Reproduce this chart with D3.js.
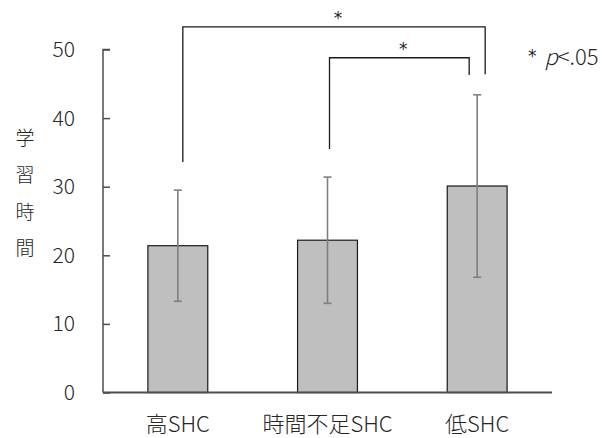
<!DOCTYPE html>
<meta charset="utf-8">
<script src="https://d3js.org/d3.v7.min.js"></script>
<style>
  body { margin: 0; background: #fff; }
  text { font-family: "Noto Sans CJK JP", "Noto Sans", sans-serif; fill: #262626; font-weight: 300; }
  .star { font-family: "DejaVu Sans", sans-serif; font-weight: normal; }
</style>
<div id="chart"></div>
<script>

// data
var categories = ["高SHC", "時間不足SHC", "低SHC"];
var means = [21.4, 22.2, 30.1];
var sds = [8.1, 9.2, 13.3];
var yTicks = [0, 10, 20, 30, 40, 50];
var yLabel = ["学", "習", "時", "間"];
// significance brackets: from / to category, left end, top, right end (y units)
var brackets = [
  {from: "高SHC", to: "低SHC", yLeft: 33.6, yTop: 53.3, yRight: 46.4, label: "*"},
  {from: "時間不足SHC", to: "低SHC", yLeft: 35.5, yTop: 48.8, yRight: 46.3, label: "*"}
];
var note = "p<.05";

var width = 606, height = 438;
var margin = {top: 49.5, right: 54, bottom: 45.5, left: 103};

var svg = d3.select("#chart")
  .append("svg")
    .attr("width", width)
    .attr("height", height);

var x = d3.scaleBand()
  .domain(categories)
  .range([margin.left, width - margin.right])
  .paddingInner(0.6)
  .paddingOuter(0.3);

var y = d3.scaleLinear()
  .domain([0, 50])
  .range([height - margin.bottom, margin.top]);

// bars
svg.selectAll("rect.bar")
  .data(categories)
  .enter()
  .append("rect")
    .attr("class", "bar")
    .attr("x", function(d) { return x(d); })
    .attr("y", function(d, i) { return y(means[i]); })
    .attr("width", x.bandwidth())
    .attr("height", function(d, i) { return y(0) - y(means[i]); })
    .attr("fill", "#bfbfbf")
    .attr("stroke", "#1a1a1a")
    .attr("stroke-width", 1.2);

// error bars
var eb = svg.selectAll("g.err")
  .data(categories)
  .enter()
  .append("g")
    .attr("class", "err")
    .attr("stroke", "#7f7f7f")
    .attr("stroke-width", 1.6);
eb.append("line")
  .attr("x1", function(d) { return x(d) + x.bandwidth() / 2; })
  .attr("x2", function(d) { return x(d) + x.bandwidth() / 2; })
  .attr("y1", function(d, i) { return y(means[i] - sds[i]); })
  .attr("y2", function(d, i) { return y(means[i] + sds[i]); });
[-1, 1].forEach(function(s) {
  eb.append("line")
    .attr("x1", function(d) { return x(d) + x.bandwidth() / 2 - 4; })
    .attr("x2", function(d) { return x(d) + x.bandwidth() / 2 + 4; })
    .attr("y1", function(d, i) { return y(means[i] + s * sds[i]); })
    .attr("y2", function(d, i) { return y(means[i] + s * sds[i]); });
});

// y axis, ticks pointing inward
var yAxis = d3.axisRight(y).tickValues(yTicks).tickSize(7).tickFormat("");
var yg = svg.append("g")
  .attr("transform", "translate(" + margin.left + ",0)")
  .call(yAxis);
yg.select(".domain").attr("stroke", "#4d4d4d").attr("stroke-width", 1.5)
  .attr("d", "M7," + y(50) + "H0V" + y(0));
yg.selectAll(".tick line").attr("stroke", "#4d4d4d").attr("stroke-width", 1.5);

svg.selectAll("text.ytick")
  .data(yTicks)
  .enter()
  .append("text")
    .attr("class", "ytick")
    .attr("x", margin.left - 28)
    .attr("y", function(d) { return y(d); })
    .attr("dy", "0.36em")
    .attr("text-anchor", "end")
    .style("font-size", "21px")
    .text(function(d) { return d; });

// x axis
svg.append("line")
  .attr("x1", margin.left)
  .attr("x2", width - margin.right)
  .attr("y1", y(0))
  .attr("y2", y(0))
  .attr("stroke", "#4d4d4d")
  .attr("stroke-width", 2);

svg.selectAll("text.xlab")
  .data(categories)
  .enter()
  .append("text")
    .attr("class", "xlab")
    .attr("x", function(d) { return x(d) + x.bandwidth() / 2; })
    .attr("y", y(0) + 32)
    .attr("dy", "0.36em")
    .attr("text-anchor", "middle")
    .style("font-size", "22px")
    .text(function(d) { return d; });

// vertical y label
svg.selectAll("text.ylab")
  .data(yLabel)
  .enter()
  .append("text")
    .attr("class", "ylab")
    .attr("x", 25)
    .attr("y", function(d, i) { return 138.5 + i * 36.6; })
    .attr("dy", "0.36em")
    .attr("text-anchor", "middle")
    .style("font-size", "19px")
    .text(function(d) { return d; });

// significance brackets
var offs = [[5, 8], [2, -8]];
brackets.forEach(function(b, i) {
  var x0 = x(b.from) + x.bandwidth() / 2 + offs[i][0];
  var x1 = x(b.to) + x.bandwidth() / 2 + offs[i][1];
  svg.append("path")
    .attr("d", "M" + x0 + "," + y(b.yLeft) + "V" + y(b.yTop) + "H" + x1 + "V" + y(b.yRight))
    .attr("fill", "none")
    .attr("stroke", "#1a1a1a")
    .attr("stroke-width", 1.3);
  svg.append("text")
    .attr("class", "star")
    .attr("x", (x0 + x1) / 2 + 4)
    .attr("y", y(b.yTop) - 3)
    .attr("text-anchor", "middle")
    .style("font-size", "17px")
    .text(b.label);
});

// note
var nt = svg.append("text")
  .attr("x", 528)
  .attr("y", 65)
  .style("font-size", "22px");
nt.append("tspan").attr("class", "star").style("font-size", "17px").attr("dy", "-3").text("*");
nt.append("tspan").style("font-style", "italic").attr("dx", "8").attr("dy", "3").text(note.slice(0, 1));
nt.append("tspan").text(note.slice(1));

</script>
